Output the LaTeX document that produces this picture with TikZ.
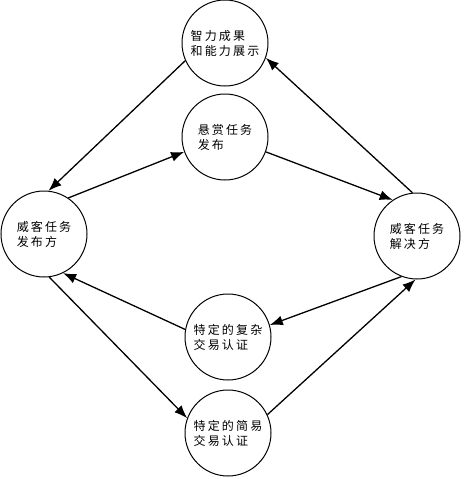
\documentclass[tikz,border=0pt]{standalone}
\usepackage{fontspec}
\newfontfamily\cjk[LetterSpace=18]{Noto Sans CJK SC}
\usetikzlibrary{arrows.meta}

\tikzset{
  quan/.style={circle,draw,line width=1pt,minimum size=86pt,inner sep=0pt,
    align=left,font=\cjk\fontsize{12}{15}\selectfont},
  jian/.style={line width=1.3pt,-{Latex[length=13pt,width=10pt]}}
}

\begin{document}
\begin{tikzpicture}[x=1pt,y=-1pt]
\useasboundingbox (0,0) rectangle (463,479);

\node[quan] (zhili) at (225,43) {智力成果\\和能力展示};
\node[quan] (xuanshang) at (225,137) {悬赏任务\\发布};
\node[quan] (fabu) at (44,234) {威客任务\\发布方};
\node[quan] (jiejue) at (417,236) {威客任务\\解决方};
\node[quan] (fuza) at (228,337) {特定的复杂\\交易认证};
\node[quan] (jianyi) at (228,433) {特定的简易\\交易认证};

\draw[jian] (zhili.204) -- (fabu.84);
\draw[jian] (jiejue.96) -- (zhili.-20);
\draw[jian] (fabu.56) -- (xuanshang.200);
\draw[jian] (xuanshang.-20) -- (jiejue.124);
\draw[jian] (jiejue.-111) -- (fuza.16);
\draw[jian] (fuza.170) -- (fabu.-64);
\draw[jian] (fabu.-83) -- (jianyi.160);
\draw[jian] (jianyi.25) -- (jiejue.-92);
\end{tikzpicture}
\end{document}
